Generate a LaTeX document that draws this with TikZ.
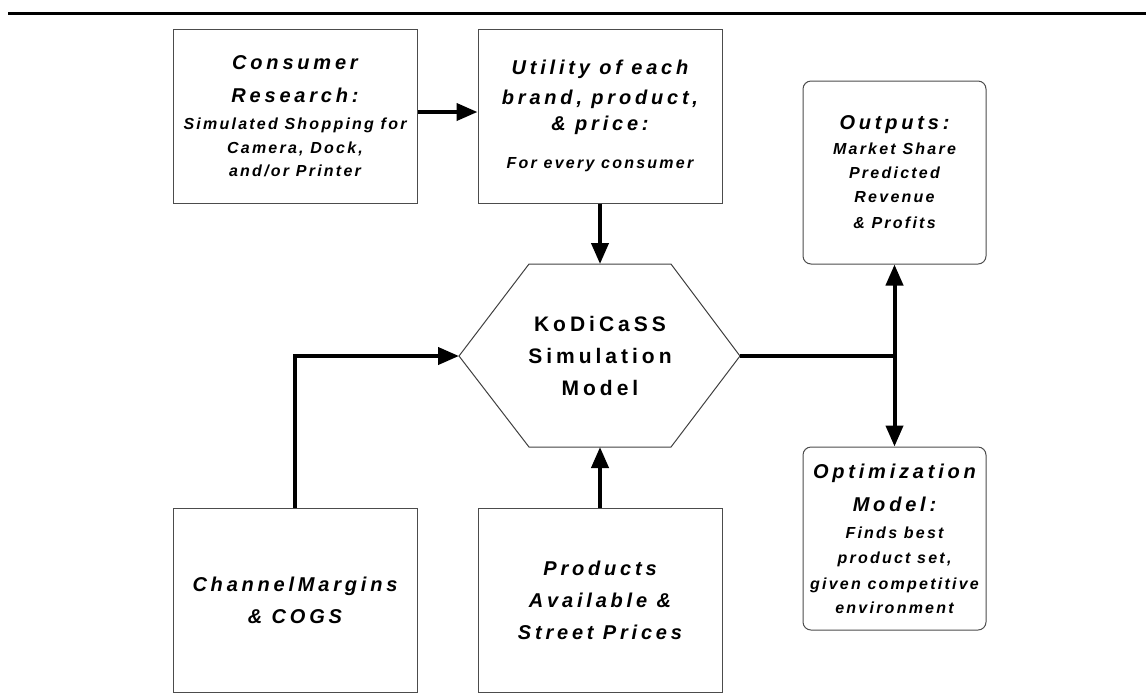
\documentclass[tikz,border=0pt]{standalone}
\usepackage{fontspec}
\setmainfont{Liberation Sans}
\newfontfamily\boxfont{Liberation Sans}[LetterSpace=19]
\newfontfamily\notefont{Liberation Sans}[LetterSpace=14]
\usetikzlibrary{arrows.meta}
\tikzset{
  >={Triangle[length=10.5pt,width=8.5pt]},
  stage/.style={draw=black!70, line width=0.5pt, inner sep=0pt, align=center,
    font=\boxfont\bfseries\itshape\fontsize{10}{12}\selectfont},
  topbox/.style={stage, minimum width=122pt, minimum height=87pt},
  lowbox/.style={stage, minimum width=122pt, minimum height=92pt},
  resbox/.style={stage, rounded corners=4pt, minimum width=91.5pt, minimum height=91.5pt},
  flow/.style={line width=2pt},
}
\newcommand{\smalltxt}[1]{{\notefont\bfseries\itshape\fontsize{8}{9}\selectfont #1}}
\begin{document}
\begin{tikzpicture}[x=0.5pt,y=-0.5pt]
  \useasboundingbox (0,0) rectangle (1146,698);
  \draw[line width=1.5pt] (8,13) -- (1146,13);

  \node[topbox] (cons) at (295,116) {Consumer\\[4.5pt] Research:\\[1.5pt]
    \smalltxt{Simulated Shopping for}\\ \smalltxt{Camera, Dock,}\\[-0.5pt] \smalltxt{and/or Printer}};
  \node[topbox] (util) at (600,116) {Utility of each\\[3pt] brand, product,\\[1pt]
    \& price:\\[7pt] \smalltxt{For every consumer}};
  \node[resbox] (outp) at (894.5,172.5) {Outputs:\\[0.5pt] \smalltxt{Market Share}\\
    \smalltxt{Predicted}\\ \smalltxt{Revenue}\\[1pt] \smalltxt{\& Profits}};
  \node[resbox] (optm) at (894.5,538.5) {Optimization\\[4.5pt] Model:\\[1.5pt]
    \smalltxt{Finds best}\\[0.5pt] \smalltxt{product set,}\\[1pt] \smalltxt{given competitive}\\
    \smalltxt{environment}};
  \node[lowbox] (chan) at (295,600) {ChannelMargins\\[4pt] \& COGS};
  \node[lowbox] (prod) at (600,600) {Products\\[4pt] Available \&\\[4pt] Street Prices};

  % simulation hexagon
  \coordinate (simL) at (459,356);
  \coordinate (simR) at (740,356);
  \coordinate (simT) at (600,264);
  \coordinate (simB) at (600,447);
  \draw[black!75, line width=0.5pt] (simL) -- (529,264) -- (671,264) -- (simR)
    -- (671,447) -- (529,447) -- cycle;
  \node[align=center, font=\boxfont\bfseries\fontsize{10.5}{12}\selectfont] (sim) at (600,356)
    {KoDiCaSS\\[4pt] Simulation\\[4pt] Model};

  \draw[flow,->] ([yshift=2pt]cons.east) -- ([yshift=2pt]cons.east -| util.west);
  \draw[flow,->] (util) -- (simT);
  \draw[flow,->] (prod) -- (simB);
  \draw[flow,->] (chan.north) |- (simL);
  \draw[flow] (simR) -- (simR -| outp.south);
  \draw[flow,<->] (outp) -- (optm);
\end{tikzpicture}
\end{document}
